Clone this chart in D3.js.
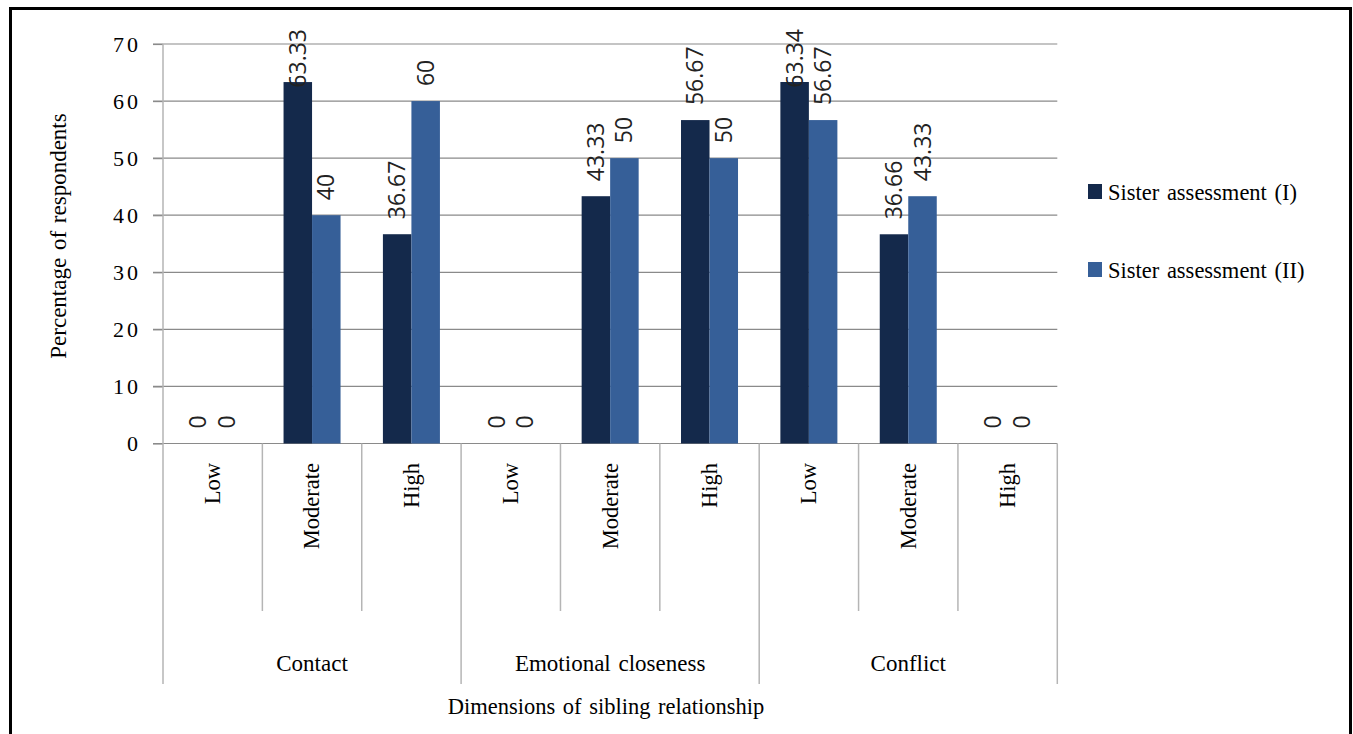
<!DOCTYPE html>
<html>
<head>
<meta charset="utf-8">
<script src="https://cdn.jsdelivr.net/npm/d3@7/dist/d3.min.js"></script>
<style>
  html, body { margin: 0; padding: 0; background: #ffffff; }
  svg { display: block; }
  .serif { font-family: "Liberation Serif", "Times New Roman", serif; fill: #000; }
  .vlabel { font-family: "Open Sans", "Noto Sans", sans-serif; fill: #222; }
</style>
</head>
<body>
<svg id="chart" width="1353" height="734"></svg>
<script>
// Sibling relationship dimensions and their levels
const groups = ["Contact", "Emotional closeness", "Conflict"];
const levels = ["Low", "Moderate", "High"];
const seriesNames = ["Sister assessment (I)", "Sister assessment (II)"];
// Percentages per group/level, in order Contact L/M/H, Emotional closeness L/M/H, Conflict L/M/H
const assessmentI  = [0, 63.33, 36.67, 0, 43.33, 56.67, 63.34, 36.66, 0];
const assessmentII = [0, 40, 60, 0, 50, 50, 56.67, 43.33, 0];
const yTicks = [0, 10, 20, 30, 40, 50, 60, 70];
const yTitle = "Percentage of respondents";
const xTitle = "Dimensions of sibling relationship";

const colors = ["#14294b", "#365f98"];

const svg = d3.select("#chart");

// Category table built from the arrays above
const cats = [];
groups.forEach((g, gi) => levels.forEach((l, li) => {
  const i = gi * levels.length + li;
  cats.push({ key: g + "|" + l, group: g, level: l, values: [assessmentI[i], assessmentII[i]] });
}));

const plotLeft = 163, plotRight = 1057.3, plotTop = 44, plotBottom = 443.5;
const x = d3.scaleBand().domain(cats.map(d => d.key)).range([plotLeft, plotRight]).padding(0);
const xs = d3.scaleBand().domain([0, 1]).range([0, x.bandwidth()]).paddingInner(0).paddingOuter(0.743);
const y = d3.scaleLinear().domain([0, 70]).range([plotBottom, plotTop]);

// Horizontal gridlines (including the zero baseline)
svg.append("g").selectAll("line").data(yTicks).join("line")
  .attr("x1", plotLeft - 10).attr("x2", plotRight)
  .attr("y1", d => y(d)).attr("y2", d => y(d))
  .attr("stroke", "#8a8a8a").attr("stroke-width", 1.2);

// Y axis tick labels
const yAxis = svg.append("g")
  .attr("transform", `translate(${plotLeft},0)`)
  .call(d3.axisLeft(y).tickValues(yTicks).tickSize(10).tickPadding(12).tickFormat(d3.format("d")));
yAxis.select(".domain").remove();
yAxis.selectAll(".tick line").attr("stroke", "#8a8a8a").attr("stroke-width", 1.2);
yAxis.selectAll(".tick text")
  .attr("class", "serif")
  .style("font-size", "22px")
  .style("letter-spacing", "3px")
  .attr("fill", "#111");

// Category separators: short between levels, long between groups
const step = x.step();
const seps = d3.range(cats.length + 1);
svg.append("g").selectAll("line").data(seps).join("line")
  .attr("x1", i => plotLeft + i * step).attr("x2", i => plotLeft + i * step)
  .attr("y1", i => i === 0 ? plotTop : plotBottom)
  .attr("y2", i => i % levels.length === 0 ? 684 : 611)
  .attr("stroke", "#b5b5b5").attr("stroke-width", 1.5);

// Bars
const catG = svg.append("g").selectAll("g").data(cats).join("g")
  .attr("transform", d => `translate(${x(d.key)},0)`);
catG.selectAll("rect").data(d => d.values.map((v, s) => ({ v, s }))).join("rect")
  .attr("x", d => xs(d.s)).attr("width", xs.bandwidth())
  .attr("y", d => y(d.v)).attr("height", d => y(0) - y(d.v))
  .attr("fill", d => colors[d.s]);

// Value labels, rotated, kept inside the chart area at the top
const minTop = 29;
catG.selectAll("text.vlabel").data(d => d.values.map((v, s) => ({ v, s }))).join("text")
  .attr("class", "vlabel")
  .style("font-size", "23px")
  .attr("text-anchor", "start")
  .attr("dy", "0.35em")
  .text(d => d3.format("")(d.v))
  .each(function (d) {
    const len = this.getComputedTextLength();
    let start = y(d.v) - 15;
    if (start - len < minTop) start = minTop + len;
    const cx = xs(d.s) + xs.bandwidth() / 2;
    d3.select(this).attr("transform", `translate(${cx},${start}) rotate(-90)`);
  });

// Level labels (rotated)
svg.append("g").selectAll("text").data(cats).join("text")
  .attr("class", "serif")
  .style("font-size", "22.5px")
  .attr("text-anchor", "end")
  .attr("dy", "0.33em")
  .attr("transform", d => `translate(${x(d.key) + x.bandwidth() / 2},463) rotate(-90)`)
  .text(d => d.level);

// Group labels
svg.append("g").selectAll("text").data(groups).join("text")
  .attr("class", "serif")
  .style("font-size", "23px")
  .style("word-spacing", "2px")
  .attr("text-anchor", "middle")
  .attr("x", (g, gi) => plotLeft + (gi * levels.length + levels.length / 2) * step)
  .attr("y", 671)
  .text(g => g);

// Axis titles
svg.append("text").attr("class", "serif")
  .style("font-size", "22.5px").style("word-spacing", "2px")
  .attr("text-anchor", "middle")
  .attr("x", 606).attr("y", 714)
  .text(xTitle);

svg.append("text").attr("class", "serif")
  .style("font-size", "23px").style("word-spacing", "2px")
  .attr("text-anchor", "middle")
  .attr("transform", "translate(66,236) rotate(-90)")
  .text(yTitle);

// Legend
const legend = svg.append("g").selectAll("g").data(seriesNames).join("g")
  .attr("transform", (d, i) => `translate(1088,${184 + i * 78})`);
legend.append("rect").attr("width", 14).attr("height", 15).attr("fill", (d, i) => colors[i]);
legend.append("text").attr("class", "serif")
  .style("font-size", "22.5px").style("word-spacing", "2px")
  .attr("x", 20).attr("y", 15.5)
  .text(d => d);

// Outer frame
svg.append("rect")
  .attr("x", 10.5).attr("y", 8.5).attr("width", 1340).attr("height", 740)
  .attr("fill", "none").attr("stroke", "#000").attr("stroke-width", 3);
</script>
</body>
</html>
